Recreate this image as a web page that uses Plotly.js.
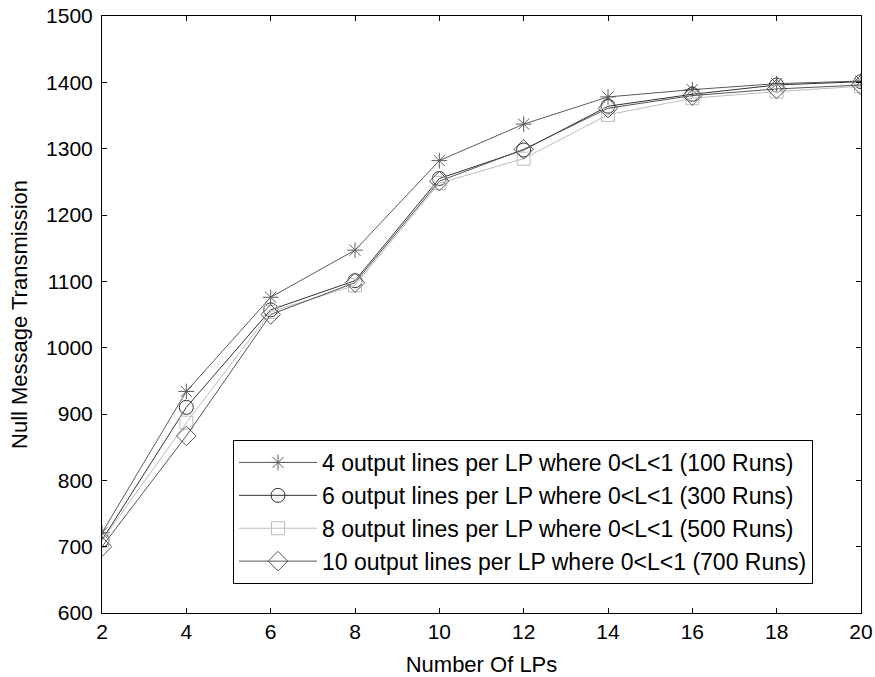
<!DOCTYPE html>
<html>
<head>
<meta charset="utf-8">
<script src="https://cdn.plot.ly/plotly-3.0.1.min.js"></script>
<style>html,body{margin:0;padding:0;background:#fff;}#chart{width:875px;height:677px;}</style>
</head>
<body>
<div id="chart"></div>
<script>
const lps = [2, 4, 6, 8, 10, 12, 14, 16, 18, 20];
const names = [
  "4 output lines per LP where 0<L<1 (100 Runs)",
  "6 output lines per LP where 0<L<1 (300 Runs)",
  "8 output lines per LP where 0<L<1 (500 Runs)",
  "10 output lines per LP where 0<L<1 (700 Runs)"
];
const runs100 = [721, 934, 1076, 1147, 1282, 1337, 1378, 1389, 1398, 1402];
const runs300 = [710, 910, 1057, 1101, 1255, 1298, 1364, 1382, 1396, 1401];
const runs500 = [709, 887, 1054, 1094, 1248, 1285, 1351, 1376, 1386, 1394];
const runs700 = [700, 867, 1050, 1098, 1251, 1299, 1361, 1380, 1390, 1396];
const yTicks = [600, 700, 800, 900, 1000, 1100, 1200, 1300, 1400, 1500];

const series = [runs100, runs300, runs500, runs700];
const colors = ['#5a5a5a', '#333333', '#bdbdbd', '#555555'];
const symbols = ['asterisk-open', 'circle-open', 'square-open', 'diamond-open'];
const sizes = [13, 14, 13, 15];

const traces = series.map((vals, i) => ({
  x: lps, y: vals, name: names[i], type: 'scatter', mode: 'lines+markers',
  line: {color: colors[i], width: 1},
  marker: {symbol: symbols[i], size: sizes[i], color: colors[i], line: {color: colors[i], width: 1}}
}));

const font = {family: 'Liberation Sans, Arial, sans-serif', color: '#000'};
Plotly.newPlot('chart', traces, {
  width: 875, height: 677,
  margin: {l: 102, r: 14, t: 16, b: 64},
  paper_bgcolor: '#fff', plot_bgcolor: '#fff',
  font: Object.assign({size: 21}, font),
  showlegend: true,
  legend: {
    x: 0.1726, y: 0.2898, xanchor: 'left', yanchor: 'top',
    bgcolor: '#fff', bordercolor: '#000', borderwidth: 1,
    font: Object.assign({size: 23}, font),
    itemwidth: 78,
    tracegroupgap: 0
  },
  xaxis: {
    range: [2, 20], tickvals: lps, ticks: 'inside', ticklen: 5, tickcolor: '#000',
    showline: true, linecolor: '#000', linewidth: 1, mirror: 'allticks',
    showgrid: false, zeroline: false,
    tickfont: Object.assign({size: 21}, font),
    title: {text: 'Number Of LPs', font: Object.assign({size: 22}, font), standoff: 14}
  },
  yaxis: {
    range: [600, 1500], tickvals: yTicks, ticks: 'inside', ticklen: 5, tickcolor: '#000',
    showline: true, linecolor: '#000', linewidth: 1, mirror: 'allticks',
    showgrid: false, zeroline: false, ticklabelstandoff: 4,
    tickfont: Object.assign({size: 21}, font),
    title: {text: 'Null Message Transmission', font: Object.assign({size: 22}, font), standoff: 12}
  }
}, {displayModeBar: false, staticPlot: true});
</script>
</body>
</html>
